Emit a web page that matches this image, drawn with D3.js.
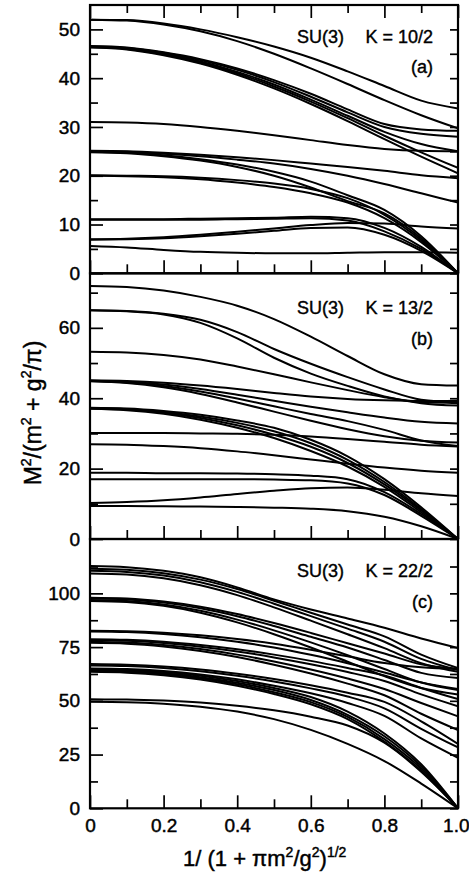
<!DOCTYPE html>
<html>
<head>
<meta charset="utf-8">
<script src="https://cdn.jsdelivr.net/npm/d3@7/dist/d3.min.js"></script>
<style>
  body { margin: 0; background: #fff; }
  svg { display: block; }
</style>
</head>
<body>
<svg id="chart" width="469" height="877"></svg>
<script>
// Sample points along the horizontal axis, 1/(1+πm²/g²)^½
const xGrid = [0, 0.1, 0.2, 0.3, 0.4, 0.5, 0.6, 0.7, 0.8, 0.9, 1.0];

// (a) SU(3), K = 10/2 : M² eigenvalues at each xGrid point
const seriesA = [
  [52.0, 51.9, 51.2, 50.0, 48.4, 46.5, 44.2, 41.4, 38.4, 35.4, 33.8],
  [52.0, 51.8, 51.0, 49.6, 47.6, 45.0, 42.0, 38.8, 35.5, 32.4, 29.7],
  [46.6, 46.3, 45.3, 43.9, 42.0, 39.6, 36.8, 33.6, 30.6, 29.5, 29.2],
  [46.5, 46.2, 45.2, 43.7, 41.7, 39.2, 36.2, 33.0, 30.0, 28.6, 28.0],
  [46.4, 46.1, 45.0, 43.4, 41.3, 38.7, 35.6, 32.3, 29.0, 26.5, 25.0],
  [46.4, 46.0, 44.9, 43.2, 41.0, 38.3, 35.2, 31.8, 28.2, 24.8, 21.6],
  [46.3, 45.9, 44.7, 43.0, 40.7, 37.9, 34.7, 31.2, 27.5, 23.9, 20.5],
  [31.0, 30.9, 30.6, 30.0, 29.2, 28.3, 27.3, 26.3, 25.5, 25.1, 25.0],
  [25.1, 25.0, 24.7, 24.3, 23.8, 23.2, 22.5, 21.8, 21.0, 20.1, 19.5],
  [25.0, 24.9, 24.5, 24.0, 23.3, 22.5, 21.4, 20.0, 18.3, 16.4, 14.5],
  [24.9, 24.7, 24.2, 23.4, 22.3, 20.8, 18.8, 16.0, 13.0, 7.6, 0],
  [24.8, 24.6, 24.0, 23.1, 21.8, 20.0, 17.6, 14.8, 12.3, 7.2, 0],
  [20.1, 20.0, 19.9, 19.6, 19.1, 18.4, 17.3, 15.4, 12.0, 6.8, 0],
  [20.0, 19.9, 19.7, 19.3, 18.6, 17.7, 16.4, 14.5, 11.3, 6.4, 0],
  [11.1, 11.1, 11.1, 11.2, 11.3, 11.4, 11.6, 11.3, 9.3, 5.4, 0],
  [11.0, 11.0, 11.0, 11.0, 11.1, 11.2, 11.3, 10.8, 8.6, 5.0, 0],
  [7.0, 7.1, 7.4, 7.9, 8.5, 9.2, 9.9, 10.3, 10.2, 9.6, 9.2],
  [6.9, 7.0, 7.2, 7.6, 8.1, 8.7, 9.3, 9.4, 7.9, 4.6, 0],
  [5.6, 5.3, 4.8, 4.4, 4.2, 4.1, 4.1, 4.2, 4.3, 4.3, 4.2]
];

// (b) SU(3), K = 13/2
const seriesB = [
  [71.9, 71.6, 70.6, 68.8, 66.3, 62.5, 57.5, 52.0, 46.8, 44.0, 43.6],
  [65.0, 64.8, 64.0, 62.3, 58.8, 54.0, 49.8, 46.0, 42.5, 39.6, 38.9],
  [65.0, 64.7, 63.8, 61.4, 57.0, 51.5, 47.0, 43.5, 40.5, 38.6, 37.9],
  [53.2, 53.0, 52.3, 51.0, 49.0, 46.8, 44.5, 42.3, 40.3, 38.9, 38.6],
  [45.1, 44.9, 44.4, 43.6, 42.6, 41.5, 40.5, 39.8, 39.4, 39.2, 39.3],
  [45.0, 44.7, 43.9, 42.6, 41.0, 39.3, 37.6, 36.0, 34.5, 33.3, 32.8],
  [44.9, 44.5, 43.5, 41.9, 39.9, 37.7, 35.5, 33.5, 31.0, 28.0, 26.4],
  [44.8, 44.3, 43.1, 41.2, 38.8, 36.2, 33.6, 31.2, 29.2, 27.9, 27.4],
  [37.3, 37.1, 36.4, 35.3, 33.7, 31.6, 28.2, 23.5, 17.0, 9.0, 0],
  [37.2, 36.9, 36.1, 34.8, 33.0, 30.6, 27.2, 22.5, 16.2, 8.5, 0],
  [37.1, 36.8, 35.9, 34.4, 32.3, 29.6, 26.2, 21.6, 15.5, 8.1, 0],
  [37.0, 36.6, 35.6, 33.9, 31.6, 28.7, 25.0, 20.6, 14.8, 7.6, 0],
  [30.1, 30.1, 30.1, 30.0, 29.9, 29.6, 29.1, 28.4, 27.6, 26.8, 26.3],
  [26.9, 26.8, 26.4, 25.8, 24.9, 23.8, 22.6, 21.4, 20.3, 19.4, 18.8],
  [18.8, 18.8, 18.7, 18.7, 18.6, 18.4, 18.0, 17.0, 13.3, 7.1, 0],
  [17.0, 17.0, 17.0, 17.0, 17.0, 16.9, 16.7, 15.8, 12.5, 6.6, 0],
  [10.2, 10.5, 11.0, 11.8, 12.8, 13.7, 14.4, 14.6, 14.0, 13.0, 12.2],
  [9.4, 9.4, 9.3, 9.2, 9.1, 8.9, 8.6, 7.9, 6.3, 3.6, 0]
];

// (c) SU(3), K = 22/2
const seriesC = [
  [112.7, 112.2, 110.5, 107.5, 102.8, 97.2, 92.5, 88.3, 84.0, 79.0, 74.6],
  [111.5, 111.0, 109.4, 106.4, 102.0, 96.6, 91.0, 85.5, 80.0, 71.5, 65.2],
  [110.5, 110.0, 108.3, 105.2, 100.7, 95.2, 89.4, 83.6, 77.5, 69.5, 64.3],
  [109.3, 108.8, 107.0, 103.8, 99.2, 93.5, 87.3, 81.0, 74.5, 67.5, 63.5],
  [98.0, 97.6, 96.2, 93.8, 90.4, 86.2, 81.6, 76.8, 72.0, 67.0, 64.8],
  [97.6, 97.2, 95.7, 93.1, 89.4, 84.8, 79.8, 74.8, 69.0, 63.0, 60.6],
  [96.9, 96.4, 94.8, 91.9, 87.8, 82.8, 77.2, 71.2, 64.8, 58.5, 55.0],
  [96.5, 96.0, 94.2, 91.0, 86.5, 81.0, 74.8, 68.2, 61.5, 56.0, 53.0],
  [82.6, 82.4, 81.7, 80.5, 78.8, 76.6, 73.8, 70.7, 67.6, 65.6, 64.8],
  [82.3, 82.0, 81.1, 79.6, 77.5, 74.8, 71.4, 67.5, 63.2, 58.6, 55.5],
  [78.7, 78.4, 77.5, 76.0, 74.0, 71.5, 68.6, 65.3, 61.8, 56.0, 50.8],
  [78.2, 77.9, 76.9, 75.2, 73.0, 70.2, 67.0, 63.4, 59.2, 53.0, 47.5],
  [77.5, 77.1, 76.0, 74.1, 71.5, 68.3, 64.6, 60.4, 55.5, 49.0, 42.8],
  [77.0, 76.6, 75.3, 73.2, 70.4, 66.8, 62.7, 58.0, 52.6, 44.0, 36.4],
  [67.1, 66.8, 66.0, 64.6, 62.6, 60.2, 57.3, 53.8, 49.5, 40.5, 30.0],
  [66.5, 66.2, 65.3, 63.8, 61.7, 59.0, 55.8, 52.0, 46.5, 37.0, 28.3],
  [65.1, 64.8, 63.9, 62.3, 60.0, 57.0, 53.5, 49.0, 43.0, 32.5, 23.5],
  [64.7, 64.4, 63.4, 61.7, 59.2, 56.0, 51.8, 45.0, 34.8, 20.5, 0],
  [64.2, 63.9, 62.8, 61.0, 58.4, 55.0, 50.4, 43.5, 33.5, 19.5, 0],
  [63.9, 63.5, 62.4, 60.5, 57.7, 54.0, 49.4, 42.5, 32.2, 18.5, 0],
  [63.5, 63.1, 61.9, 59.9, 57.0, 53.2, 48.4, 41.5, 31.0, 17.5, 0],
  [50.7, 50.6, 50.1, 49.2, 47.7, 45.6, 42.6, 38.5, 30.5, 17.0, 0],
  [49.6, 49.4, 48.7, 47.3, 45.0, 41.5, 36.5, 30.0, 22.0, 11.5, 0]
];

// Tick values
const xMajorTicks = [0, 0.2, 0.4, 0.6, 0.8, 1.0];
const xMinorTicks = [0.1, 0.3, 0.5, 0.7, 0.9];
const xTickLabels = ["0", "0.2", "0.4", "0.6", "0.8", "1.0"];
const yMajorA = [0, 10, 20, 30, 40, 50];
const yMinorA = [5, 15, 25, 35, 45];
const yMajorB = [0, 20, 40, 60];
const yMinorB = [10, 30, 50, 70];
const yMajorC = [0, 25, 50, 75, 100];
const yMinorC = [12.5, 37.5, 62.5, 87.5, 112.5];

// Panel captions
const groupLabel = "SU(3)";
const kLabels = ["K = 10/2", "K = 13/2", "K = 22/2"];
const panelTags = ["(a)", "(b)", "(c)"];

// ---- layout ----
const FONT = "'Liberation Sans', Arial, Helvetica, sans-serif";
const left = 90, right = 458;
const panels = [
  { series: seriesA, yMax: 55.0, top: 5, bottom: 273.3, major: yMajorA, minor: yMinorA,
    k: kLabels[0], tag: panelTags[0], capY: 43, tagY: 73, topTicks: true, xLabels: false },
  { series: seriesB, yMax: 75.5, top: 273.3, bottom: 539, major: yMajorB, minor: yMinorB,
    k: kLabels[1], tag: panelTags[1], capY: 313.5, tagY: 345, topTicks: false, xLabels: false },
  { series: seriesC, yMax: 125.3, top: 539, bottom: 808.3, major: yMajorC, minor: yMinorC,
    k: kLabels[2], tag: panelTags[2], capY: 577, tagY: 608, topTicks: false, xLabels: true }
];

const svg = d3.select("#chart");
svg.append("rect").attr("width", 469).attr("height", 877).attr("fill", "#fff");

const x = d3.scaleLinear().domain([0, 1]).range([left, right]);

// slightly heavier type, like the printed figure
function inked(sel, w) {
  return sel.attr("fill", "#000").attr("stroke", "#000").attr("stroke-width", w)
    .attr("paint-order", "stroke");
}

function styleAxis(g) {
  g.select(".domain").remove();
  g.selectAll(".tick line").attr("stroke", "#000").attr("stroke-width", 1.7);
  g.selectAll(".tick text")
    .style("font-family", FONT)
    .style("font-size", "19px")
    .call(inked, 0.45);
}

panels.forEach((p, i) => {
  const y = d3.scaleLinear().domain([0, p.yMax]).range([p.bottom, p.top]);
  const g = svg.append("g");

  const clipId = "clip" + i;
  svg.append("clipPath").attr("id", clipId)
    .append("rect")
    .attr("x", left).attr("y", p.top)
    .attr("width", right - left).attr("height", p.bottom - p.top);

  // spectrum lines
  const line = d3.line()
    .x((d, j) => x(xGrid[j]))
    .y(d => y(d))
    .curve(d3.curveMonotoneX);

  g.append("g")
    .attr("clip-path", `url(#${clipId})`)
    .selectAll("path")
    .data(p.series)
    .join("path")
    .attr("d", line)
    .attr("fill", "none")
    .attr("stroke", "#000")
    .attr("stroke-width", 2)
    .attr("stroke-linejoin", "round")
    .attr("stroke-linecap", "round");

  // left axis: labelled major ticks, short minor ticks, pointing inward
  g.append("g").attr("transform", `translate(${left},0)`)
    .call(d3.axisLeft(y).tickValues(p.major).tickSize(-13).tickPadding(10).tickFormat(d3.format("d")))
    .call(styleAxis);
  g.append("g").attr("transform", `translate(${left},0)`)
    .call(d3.axisLeft(y).tickValues(p.minor).tickSize(-8).tickFormat(""))
    .call(styleAxis);

  // right axis ticks
  g.append("g").attr("transform", `translate(${right},0)`)
    .call(d3.axisRight(y).tickValues(p.major.concat(p.minor)).tickSize(-8).tickFormat(""))
    .call(styleAxis);

  // bottom axis
  const bottomAxis = g.append("g").attr("transform", `translate(0,${p.bottom})`)
    .call(d3.axisBottom(x).tickValues(xMajorTicks).tickSize(-13).tickPadding(10)
      .tickFormat((d, j) => p.xLabels ? xTickLabels[j] : ""))
    .call(styleAxis);
  // keep the last label inside the page edge
  bottomAxis.selectAll(".tick text").filter(d => d === 1).attr("text-anchor", "end").attr("dx", 11);
  g.append("g").attr("transform", `translate(0,${p.bottom})`)
    .call(d3.axisBottom(x).tickValues(xMinorTicks).tickSize(-9).tickFormat(""))
    .call(styleAxis);

  if (p.topTicks) {
    g.append("g").attr("transform", `translate(0,${p.top})`)
      .call(d3.axisTop(x).tickValues(xMajorTicks).tickSize(-13).tickFormat(""))
      .call(styleAxis);
    g.append("g").attr("transform", `translate(0,${p.top})`)
      .call(d3.axisTop(x).tickValues(xMinorTicks).tickSize(-8).tickFormat(""))
      .call(styleAxis);
  }

  // frame
  g.append("rect")
    .attr("x", left).attr("y", p.top)
    .attr("width", right - left).attr("height", p.bottom - p.top)
    .attr("fill", "none").attr("stroke", "#000").attr("stroke-width", 2.2);

  // captions
  g.append("text").attr("x", 297).attr("y", p.capY)
    .style("font-family", FONT).style("font-size", "18px").call(inked, 0.4).text(groupLabel);
  g.append("text").attr("x", 433).attr("y", p.capY).attr("text-anchor", "end")
    .style("font-family", FONT).style("font-size", "18px").call(inked, 0.4).text(p.k);
  g.append("text").attr("x", 433).attr("y", p.tagY).attr("text-anchor", "end")
    .style("font-family", FONT).style("font-size", "18px").call(inked, 0.4).text(p.tag);
});

// text with superscripts
function richText(sel, parts, size) {
  const supSize = Math.round(size * 0.62);
  const shift = Math.round(size * 0.42);
  let raised = false;
  parts.forEach(part => {
    const t = sel.append("tspan").text(part.t);
    if (part.sup && !raised) { t.attr("dy", -shift).style("font-size", supSize + "px"); raised = true; }
    else if (part.sup) { t.style("font-size", supSize + "px"); }
    else if (raised) { t.attr("dy", shift); raised = false; }
  });
}

// y-axis title
const yTitle = svg.append("text")
  .attr("transform", "translate(41,413) rotate(-90)")
  .attr("text-anchor", "middle")
  .style("font-family", FONT).style("font-size", "23px")
  .call(inked, 0.45);
richText(yTitle, [
  { t: "M" }, { t: "2", sup: true }, { t: "/(m" }, { t: "2", sup: true },
  { t: " + g" }, { t: "2", sup: true }, { t: "/π)" }
], 23);

// x-axis title
const xTitle = svg.append("text")
  .attr("x", 183).attr("y", 866)
  .style("font-family", FONT).style("font-size", "22px")
  .call(inked, 0.45);
richText(xTitle, [
  { t: "1/ (1 + πm" }, { t: "2", sup: true }, { t: "/g" }, { t: "2", sup: true },
  { t: ")" }, { t: "1/2", sup: true }
], 22);
</script>
</body>
</html>
